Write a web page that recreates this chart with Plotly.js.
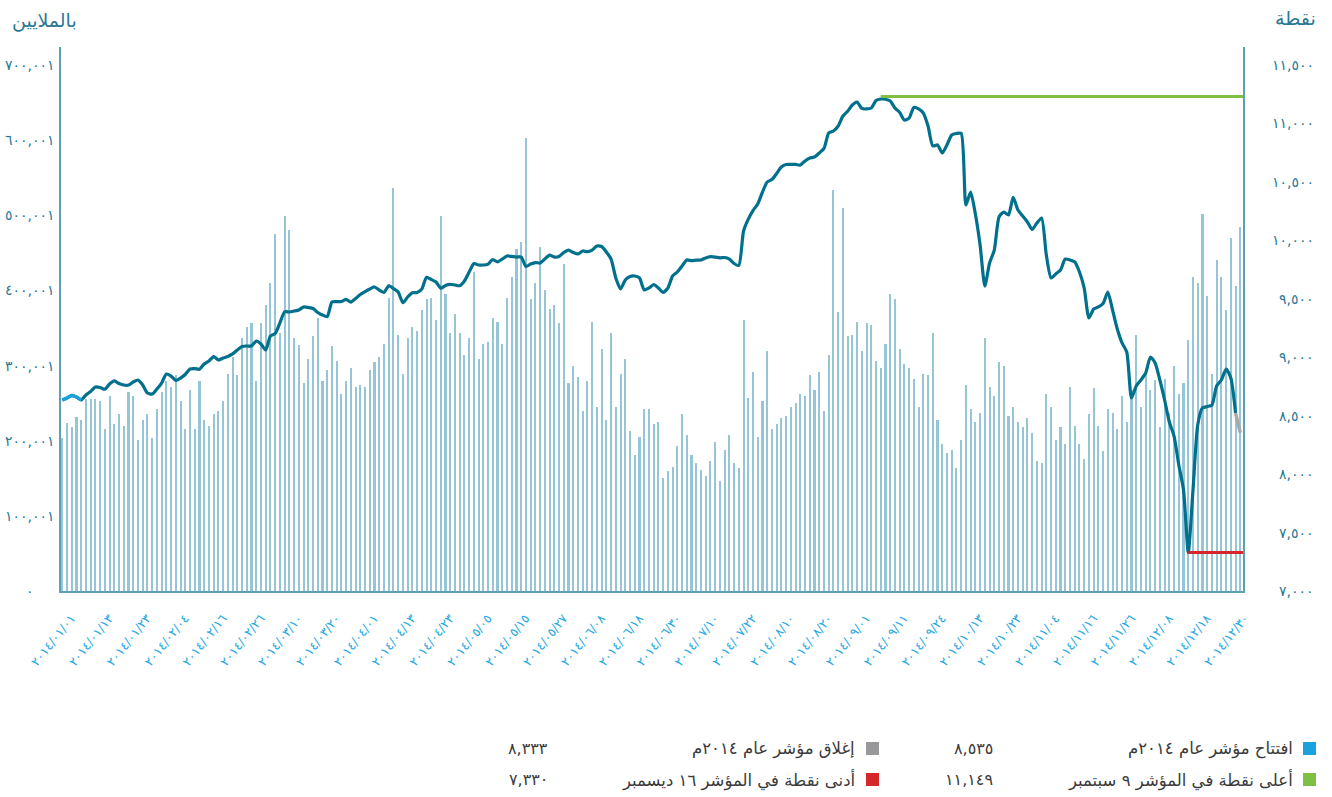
<!DOCTYPE html>
<html>
<head>
<meta charset="utf-8">
<script src="https://cdn.plot.ly/plotly-3.0.1.min.js"></script>
<style>html,body{margin:0;padding:0;background:#fff;}#chart{width:1332px;height:797px;}</style>
</head>
<body>
<div id="chart"></div>
<script>
// ---- data ----
const tickLabels = ['٢٠١٤/٠١/٠١','٢٠١٤/٠١/١٣','٢٠١٤/٠١/٢٣','٢٠١٤/٠٢/٠٤','٢٠١٤/٠٢/١٦','٢٠١٤/٠٢/٢٦','٢٠١٤/٠٣/١٠','٢٠١٤/٠٣/٢٠','٢٠١٤/٠٤/٠١','٢٠١٤/٠٤/١٣','٢٠١٤/٠٤/٢٣','٢٠١٤/٠٥/٠٥','٢٠١٤/٠٥/١٥','٢٠١٤/٠٥/٢٧','٢٠١٤/٠٦/٠٨','٢٠١٤/٠٦/١٨','٢٠١٤/٠٦/٣٠','٢٠١٤/٠٧/١٠','٢٠١٤/٠٧/٢٢','٢٠١٤/٠٨/١٠','٢٠١٤/٠٨/٢٠','٢٠١٤/٠٩/٠١','٢٠١٤/٠٩/١١','٢٠١٤/٠٩/٢٤','٢٠١٤/١٠/١٣','٢٠١٤/١٠/٢٣','٢٠١٤/١١/٠٤','٢٠١٤/١١/١٦','٢٠١٤/١١/٢٦','٢٠١٤/١٢/٠٨','٢٠١٤/١٢/١٨','٢٠١٤/١٢/٣٠'];
const labelEvery = 8; // one date label every 8 trading days

// daily traded value (thousands of millions as on the left axis)
const tradeValue = [
203,224,218,232,228,256,256,256,253,216,
259,222,236,220,265,259,201,228,236,203,
242,265,280,272,287,253,216,268,216,280,
228,220,236,240,253,289,311,288,337,351,
357,280,357,381,410,475,343,499,481,337,
327,277,309,340,364,280,294,326,306,262,
280,297,272,274,271,294,305,312,329,390,
536,341,289,337,351,346,374,389,390,361,
499,395,343,369,343,314,337,425,309,329,
331,363,358,329,390,418,455,465,603,389,
410,458,400,375,381,357,435,277,300,285,
240,280,358,245,322,228,343,245,289,309,
213,181,205,242,242,222,225,150,160,165,
193,236,208,181,170,161,153,173,198,146,
188,208,170,164,361,257,292,205,253,319,
216,222,230,233,245,250,262,260,288,268,
292,240,314,534,371,510,339,341,358,319,
357,354,306,297,329,395,389,322,302,297,
282,245,289,288,343,228,196,184,188,164,
201,274,242,225,237,337,272,260,305,300,
233,245,225,218,230,210,173,170,262,245,
201,218,196,272,220,196,176,236,270,220,
186,242,237,216,260,225,268,341,245,289,
268,281,218,282,237,300,262,277,334,418,
410,502,393,289,441,418,374,470,406,485
];

// index level (points, right axis)
const indexLevel = [
8634,8651,8672,8660,8634,8677,8707,8745,8741,8726,
8771,8797,8775,8762,8762,8788,8805,8762,8694,8685,
8728,8779,8856,8839,8801,8822,8852,8899,8903,8897,
8942,8968,9006,8976,8993,9006,9028,9062,9092,9096,
9096,9139,9113,9062,9182,9203,9293,9389,9387,9395,
9404,9430,9425,9417,9383,9361,9347,9472,9475,9477,
9495,9472,9502,9537,9562,9584,9601,9575,9554,9612,
9588,9558,9466,9515,9552,9554,9584,9684,9665,9643,
9590,9614,9624,9618,9612,9652,9729,9802,9789,9789,
9797,9836,9815,9840,9866,9862,9857,9857,9776,9797,
9810,9806,9840,9874,9857,9862,9896,9917,9896,9883,
9909,9903,9917,9951,9947,9900,9840,9678,9584,9661,
9691,9695,9678,9575,9592,9622,9592,9554,9592,9695,
9729,9780,9832,9826,9830,9832,9849,9860,9857,9850,
9853,9840,9802,9786,10080,10182,10255,10311,10413,10499,
10520,10572,10627,10649,10650,10649,10644,10679,10704,10713,
10747,10786,10918,10935,10978,11064,11104,11158,11183,11128,
11124,11132,11196,11209,11207,11192,11132,11094,11029,11046,
11136,11124,11089,10978,10807,10816,10747,10816,10901,10914,
10916,10302,10413,10225,9960,9609,9806,9917,10200,10242,
10217,10368,10259,10208,10157,10093,10148,10191,9874,9678,
9712,9746,9840,9832,9815,9729,9592,9336,9413,9430,
9460,9558,9404,9241,9122,9045,8651,8754,8805,8865,
9002,8951,8805,8634,8446,8326,8078,7864,7330,7864,
8420,8566,8578,8591,8754,8805,8899,8822,8523,8354
];

const openingDays = 5;         // highlighted first days (opening)
const highLevel = 11230;       // green reference line
const lowLevel = 7330;         // red reference line

const leftTickVals = [0,100,200,300,400,500,600,700];
const leftTickText = ['٠','١٠٠,٠٠١','٢٠٠,٠٠١','٣٠٠,٠٠١','٤٠٠,٠٠١','٥٠٠,٠٠١','٦٠٠,٠٠١','٧٠٠,٠٠١'];
const rightTickVals = [7000,7500,8000,8500,9000,9500,10000,10500,11000,11500];
const rightTickText = ['٧,٠٠٠','٧,٥٠٠','٨,٠٠٠','٨,٥٠٠','٩,٠٠٠','٩,٥٠٠','١٠,٠٠٠','١٠,٥٠٠','١١,٠٠٠','١١,٥٠٠'];

const legendItems = [
  {label:'افتتاح مؤشر عام ٢٠١٤م', value:'٨,٥٣٥', color:'#1BA1DC'},
  {label:'إغلاق مؤشر عام ٢٠١٤م', value:'٨,٣٣٣', color:'#98989B'},
  {label:'أعلى نقطة في المؤشر ٩ سبتمبر', value:'١١,١٤٩', color:'#7DC043'},
  {label:'أدنى نقطة في المؤشر ١٦ ديسمبر', value:'٧,٣٣٠', color:'#D5262C'}
];

// ---- build ----
const days = tradeValue.map((_, i) => i);
const xMin = -0.27, xMax = 249.57;
const peakDay = indexLevel.indexOf(Math.max(...indexLevel));
const lowDay = indexLevel.indexOf(Math.min(...indexLevel));
const lastDay = days.length - 1;

const FONT = 'DejaVu Sans, sans-serif';
const AXIS_COLOR = '#5E9FB5';
const LABEL_COLOR = '#2A7896';
const LINE_COLOR = '#00708C';

const traces = [
  {type:'bar', x:days, y:tradeValue, width:0.44, marker:{color:'#96C6D6', line:{width:0}}, yaxis:'y', hoverinfo:'skip'},
  {type:'scatter', mode:'lines', x:days.slice(0, lastDay), y:indexLevel.slice(0, lastDay), yaxis:'y2',
   line:{color:LINE_COLOR, width:3.2, shape:'spline', smoothing:0.6}, hoverinfo:'skip'},
  {type:'scatter', mode:'lines', x:days.slice(0, openingDays), y:indexLevel.slice(0, openingDays), yaxis:'y2',
   line:{color:'#1BA1DC', width:3.4, shape:'spline', smoothing:0.6}, hoverinfo:'skip'},
  {type:'scatter', mode:'lines', x:days.slice(lastDay - 1), y:indexLevel.slice(lastDay - 1), yaxis:'y2',
   line:{color:'#A9A9AB', width:3.4}, hoverinfo:'skip'},
  {type:'scatter', mode:'lines', x:[peakDay, xMax], y:[highLevel, highLevel], yaxis:'y2',
   line:{color:'#7DC043', width:3}, hoverinfo:'skip'},
  {type:'scatter', mode:'lines', x:[lowDay, xMax], y:[lowLevel, lowLevel], yaxis:'y2',
   line:{color:'#D5262C', width:3}, hoverinfo:'skip'}
];

// plot area in pixels: left 61, right 1243, top 47, bottom 591
const PL = 61, PR = 1243, PT = 47, PB = 591;
const px = v => (v - PL) / (PR - PL);
const py = v => (PB - v) / (PB - PT);

const annotations = [];
leftTickVals.forEach((v, i) => annotations.push({
  xref:'paper', yref:'y', x:px(30), y:v, text:leftTickText[i], showarrow:false,
  xanchor:'center', yanchor:'middle', font:{family:FONT, size:14, color:LABEL_COLOR}
}));
rightTickVals.forEach((v, i) => annotations.push({
  xref:'paper', yref:'y2', x:px(1316), y:v, text:rightTickText[i], showarrow:false,
  xanchor:'right', yanchor:'middle', font:{family:FONT, size:14, color:LABEL_COLOR}
}));
annotations.push({xref:'paper', yref:'paper', x:px(44), y:py(20), text:'بالملايين', showarrow:false,
  xanchor:'center', yanchor:'middle', font:{family:FONT, size:19, color:LABEL_COLOR}});
annotations.push({xref:'paper', yref:'paper', x:px(1295), y:py(18), text:'نقطة', showarrow:false,
  xanchor:'center', yanchor:'middle', font:{family:FONT, size:19, color:LABEL_COLOR}});

const shapes = [];
const legendCols = [{sq:1303, lab:1295, val:995}, {sq:866, lab:857, val:550}];
const legendRows = [748.5, 779.5];
legendItems.forEach((it, k) => {
  const col = legendCols[k % 2], rowY = legendRows[Math.floor(k / 2)];
  shapes.push({type:'rect', xref:'paper', yref:'paper', x0:px(col.sq), x1:px(col.sq + 13),
    y0:py(rowY - 6.5), y1:py(rowY + 6.5), fillcolor:it.color, line:{width:0}});
  annotations.push({xref:'paper', yref:'paper', x:px(col.lab), y:py(rowY), text:it.label, showarrow:false,
    xanchor:'right', yanchor:'middle', font:{family:FONT, size:16.5, color:'#3A3A3A'}});
  annotations.push({xref:'paper', yref:'paper', x:px(col.val), y:py(rowY), text:it.value, showarrow:false,
    xanchor:'right', yanchor:'middle', font:{family:FONT, size:16, color:'#3A3A3A'}});
});

const layout = {
  width:1332, height:797,
  margin:{l:PL, r:1332 - PR, t:PT, b:797 - PB, pad:0},
  paper_bgcolor:'#fff', plot_bgcolor:'#fff',
  showlegend:false, bargap:0,
  font:{family:FONT},
  xaxis:{range:[xMin, xMax], showgrid:false, zeroline:false, showline:true, linecolor:AXIS_COLOR, linewidth:2,
    tickmode:'array', tickvals:tickLabels.map((_, k) => k * labelEvery), ticktext:tickLabels,
    tickangle:-51, ticks:'', ticklabelstandoff:13, ticklabelshift:9,
    tickfont:{family:FONT, size:12.5, color:'#27A9E1'}},
  yaxis:{range:[0, 724], showgrid:false, zeroline:false, showline:true, linecolor:AXIS_COLOR, linewidth:2,
    showticklabels:false, ticks:''},
  yaxis2:{range:[7000, 11654], overlaying:'y', side:'right', showgrid:false, zeroline:false, showline:true,
    linecolor:AXIS_COLOR, linewidth:2, showticklabels:false, ticks:''},
  annotations:annotations, shapes:shapes
};

Plotly.newPlot('chart', traces, layout, {staticPlot:true, displayModeBar:false});
</script>
</body>
</html>
